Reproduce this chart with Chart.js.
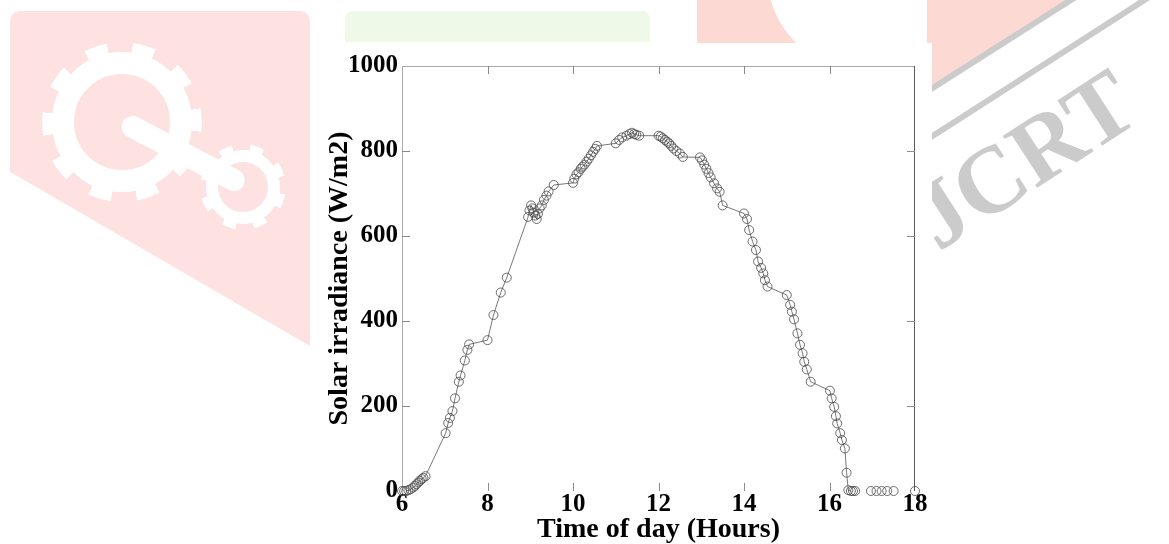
<!DOCTYPE html>
<html>
<head>
<meta charset="utf-8">
<script src="https://cdn.jsdelivr.net/npm/chart.js@4.4.1/dist/chart.umd.min.js"></script>
<style>
  html, body { margin: 0; padding: 0; background: #fff; }
  #wrap { position: relative; width: 1169px; height: 544px; overflow: hidden; }
  .bg { position: absolute; }
  #pinkLeft { left: 10px; top: 11px; width: 300px; height: 335px; background: #fde2e1;
    border-radius: 10px 10px 0 0; clip-path: polygon(0 0, 100% 0, 100% 100%, 0 48%); }
  #teethBig { left: 42px; top: 42px; width: 160px; height: 160px; border-radius: 50%;
    background: repeating-conic-gradient(from 8deg, #fff 0 17deg, rgba(255,255,255,0) 17deg 36deg);
    -webkit-mask-image: radial-gradient(circle, rgba(0,0,0,0) 60px, #000 61px);
    mask-image: radial-gradient(circle, rgba(0,0,0,0) 60px, #000 61px); }
  #gearBig { left: 52px; top: 52px; width: 96px; height: 96px; border: 22px solid #fff; border-radius: 50%; }
  #teethSmall { left: 200px; top: 144px; width: 86px; height: 86px; border-radius: 50%;
    background: repeating-conic-gradient(from 10deg, #fff 0 20deg, rgba(255,255,255,0) 20deg 45deg);
    -webkit-mask-image: radial-gradient(circle, rgba(0,0,0,0) 32px, #000 33px);
    mask-image: radial-gradient(circle, rgba(0,0,0,0) 32px, #000 33px); }
  #gearSmall { left: 206px; top: 150px; width: 50px; height: 50px; border: 12px solid #fff; border-radius: 50%; }
  #crank { left: 123px; top: 111px; width: 136px; height: 22px; background: #fff; border-radius: 11px;
    transform-origin: 0 11px; transform: rotate(27.7deg); }
  #green { left: 345px; top: 11px; width: 305px; height: 31px; background: #eef9e7; border-radius: 8px 8px 0 0; }
  #pinkTop { left: 697px; top: 0; width: 235px; height: 43px;
    background: radial-gradient(circle 95px at 165px -25px, #fff 99%, #fdd9d3 100%); }
  #pinkRight { left: 927px; top: 0; width: 145px; height: 92px; background: #fdd9d3;
    clip-path: polygon(0 0, 100% 0, 0 100%); }
  .stripe { height: 6px; background: #cbcbcb; transform-origin: 0 50%; }
  #stripe1 { left: 928px; top: 88px; width: 175px; transform: rotate(-32.5deg); }
  #stripe2 { left: 928px; top: 136px; width: 270px; transform: rotate(-32.7deg); }
  #jcrt { left: 894px; top: 105px; width: 250px; height: 95px; line-height: 95px; text-align: center;
    font: bold 95px "Liberation Serif", serif; color: #cbcbcb; transform: rotate(-33deg); }
  #paper { left: 312px; top: 43px; width: 620px; height: 501px; background: #fff; }
  #chartBox { position: absolute; left: 0; top: 0; width: 1169px; height: 544px; }
</style>
</head>
<body>
<div id="wrap">
  <div class="bg" id="pinkLeft"></div>
  <div class="bg" id="teethBig"></div>
  <div class="bg" id="gearBig"></div>
  <div class="bg" id="crank"></div>
  <div class="bg" id="teethSmall"></div>
  <div class="bg" id="gearSmall"></div>
  <div class="bg" id="green"></div>
  <div class="bg" id="pinkTop"></div>
  <div class="bg" id="pinkRight"></div>
  <div class="bg stripe" id="stripe1"></div>
  <div class="bg stripe" id="stripe2"></div>
  <div class="bg" id="jcrt">JCRT</div>
  <div class="bg" id="paper"></div>
  <div id="chartBox"><canvas id="chart_solarIrradiance"></canvas></div>
</div>
<script>
var hours = [
  6.00, 6.05, 6.10, 6.15, 6.20, 6.26, 6.30, 6.34, 6.38, 6.42, 6.46, 6.50, 6.55,
  7.02, 7.08, 7.12, 7.18, 7.24, 7.33, 7.37, 7.47, 7.53, 7.57, 8.00, 8.14, 8.31, 8.45,
  8.95, 8.98, 9.02, 9.05, 9.08, 9.12, 9.15, 9.18, 9.22, 9.27, 9.32, 9.38, 9.43, 9.55,
  10.00, 10.03, 10.08, 10.13, 10.18, 10.22, 10.27, 10.32, 10.37, 10.42, 10.47, 10.52, 10.56,
  11.00, 11.08, 11.15, 11.25, 11.32, 11.38, 11.43, 11.48, 11.55,
  12.00, 12.05, 12.10, 12.15, 12.20, 12.25, 12.30, 12.35, 12.42, 12.50, 12.57,
  12.97, 13.02, 13.07, 13.12, 13.17, 13.22, 13.30, 13.37, 13.43, 13.50,
  14.00, 14.07, 14.12, 14.20, 14.28, 14.33, 14.40, 14.45, 14.49, 14.55,
  15.00, 15.08, 15.12, 15.17, 15.25, 15.31, 15.37, 15.41, 15.47, 15.56,
  16.01, 16.05, 16.11, 16.15, 16.18, 16.25, 16.29, 16.36, 16.40, 16.44, 16.50, 16.55, 16.60,
  16.97, 17.10, 17.22, 17.35, 17.50, 18.00
];
var irradiance = [
  0, 0, 0, 2, 4, 8, 12, 16, 20, 24, 28, 31, 35,
  136, 160, 172, 188, 218, 257, 272, 307, 332, 345, 355, 414, 467, 502,
  645, 660, 672, 665, 655, 648, 640, 652, 665, 672, 685, 695, 705, 720,
  725, 735, 745, 750, 758, 763, 768, 775, 782, 790, 798, 805, 812,
  818, 826, 832, 836, 840, 843, 840, 838, 836,
  836, 834, 830, 826, 822, 818, 812, 806, 800, 794, 786,
  785, 778, 768, 758, 748, 738, 724, 712, 704, 672,
  653, 640, 614, 587, 567, 540, 525, 512, 496, 481,
  461, 438, 422, 404, 371, 344, 324, 304, 286, 257,
  236, 218, 198, 176, 159, 136, 120, 100, 43, 2, 0, 0, 0,
  0, 0, 0, 0, 0, 0
];
var xTicks = [6, 8, 10, 12, 14, 16, 18];
var yTicks = [0, 200, 400, 600, 800, 1000];

var points = hours.map(function (h, i) { return {x: h, y: irradiance[i]}; });
var tickFont = {family: '"Liberation Serif", "Times New Roman", serif', size: 25, weight: 'bold', lineHeight: 1};
var titleFont = {family: '"Liberation Serif", "Times New Roman", serif', size: 28, weight: 'bold', lineHeight: 1};

var chart_solarIrradiance = new Chart(document.getElementById('chart_solarIrradiance'), {
    type: 'scatter',
    data: {
        datasets: [
            {
                label: 'Solar irradiance',
                data: points,
                showLine: true,
                borderColor: '#555',
                borderWidth: 0.8,
                pointRadius: 4.5,
                pointBorderWidth: 0.8,
                pointBorderColor: '#4a4a4a',
                pointBackgroundColor: 'rgba(0,0,0,0)',
                clip: false,
                segment: {
                    // the zero readings sit on the bottom edge, no joining line shows there
                    borderColor: function (ctx) {
                        return (ctx.p0.parsed.y === 0 && ctx.p1.parsed.y === 0) ? 'rgba(0,0,0,0)' : undefined;
                    }
                }
            }
        ]
    },
    options: {
        animation: false,
        responsive: true,
        maintainAspectRatio: false,
        layout: {
            padding: {left: 0, right: 254, top: 66, bottom: 0}
        },
        plugins: {
            legend: {display: false},
            tooltip: {enabled: false}
        },
        scales: {
            x: {
                type: 'linear',
                min: 6,
                max: 18,
                afterBuildTicks: function (scale) {
                    scale.ticks = xTicks.map(function (v) { return {value: v}; });
                },
                afterFit: function (scale) { scale.height = 53; },
                grid: {display: false, drawTicks: false},
                border: {display: false},
                ticks: {
                    color: '#000', font: tickFont, padding: 1, maxRotation: 0, autoSkip: false,
                    callback: function (value) { return String(value); }
                },
                title: {
                    display: true,
                    text: 'Time of day (Hours)',
                    color: '#000',
                    font: titleFont,
                    padding: {top: 0, bottom: 0}
                }
            },
            y: {
                type: 'linear',
                min: 0,
                max: 1000,
                afterBuildTicks: function (scale) {
                    scale.ticks = yTicks.map(function (v) { return {value: v}; });
                },
                afterFit: function (scale) { scale.width = 402; },
                grid: {display: false, drawTicks: false},
                border: {display: false},
                ticks: {
                    color: '#000', font: tickFont, padding: 4,
                    callback: function (value) { return String(value); }
                },
                title: {
                    display: true,
                    text: 'Solar irradiance (W/m2)',
                    color: '#000',
                    font: titleFont,
                    padding: {top: 326, bottom: 0}
                }
            }
        }
    },
    plugins: [{
        id: 'frameTicks',
        beforeDatasetsDraw: function (chart) {
            var ctx = chart.ctx;
            var a = chart.chartArea;
            var xs = chart.scales.x, ys = chart.scales.y;
            var len = 8;
            ctx.save();
            ctx.lineWidth = 1;
            ctx.strokeStyle = '#a8a8a8';
            ctx.beginPath();
            ctx.moveTo(a.left + 0.5, a.bottom);
            ctx.lineTo(a.left + 0.5, a.top + 0.5);
            ctx.lineTo(a.right, a.top + 0.5);
            ctx.stroke();
            ctx.strokeStyle = '#5a5a5a';
            ctx.beginPath();
            ctx.moveTo(a.right - 0.5, a.top);
            ctx.lineTo(a.right - 0.5, a.bottom);
            ctx.stroke();
            ctx.strokeStyle = '#8a8a8a';
            ctx.beginPath();
            xTicks.slice(1, -1).forEach(function (v) {
                var px = Math.round(xs.getPixelForValue(v)) + 0.5;
                ctx.moveTo(px, a.top); ctx.lineTo(px, a.top + len);
                ctx.moveTo(px, a.bottom); ctx.lineTo(px, a.bottom - len);
            });
            yTicks.slice(1, -1).forEach(function (v) {
                var py = Math.round(ys.getPixelForValue(v)) + 0.5;
                ctx.moveTo(a.left, py); ctx.lineTo(a.left + len, py);
                ctx.moveTo(a.right, py); ctx.lineTo(a.right - len, py);
            });
            ctx.stroke();
            ctx.restore();
        }
    }]
});
</script>
</body>
</html>
